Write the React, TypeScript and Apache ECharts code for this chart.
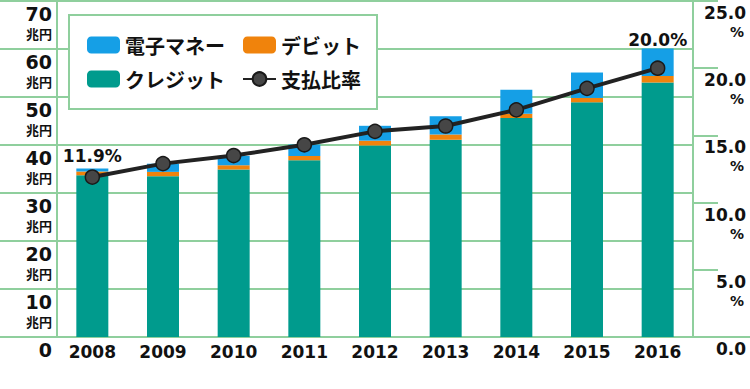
import React, { useEffect, useRef } from "react";
import * as echarts from "echarts";

const years = ["2008", "2009", "2010", "2011", "2012", "2013", "2014", "2015", "2016"];
const credit = [33.7, 33.5, 34.9, 36.8, 39.9, 41.1, 45.6, 48.9, 53.0];
const debit = [0.8, 0.9, 0.9, 0.9, 1.0, 1.1, 0.9, 0.9, 1.4];
const emoney = [0.6, 1.7, 1.9, 2.4, 3.1, 3.8, 5.0, 5.3, 5.7];
const rate = [11.9, 12.9, 13.5, 14.3, 15.3, 15.7, 16.9, 18.5, 20.0];

const GREEN = "#8fcf9d";
const NUM_FONT = "DejaVu Sans";
const JP_FONT = "Noto Sans CJK JP";

export default function App() {
  const ref = useRef<HTMLDivElement>(null);
  useEffect(() => {
    const chart = echarts.init(ref.current!, null, { renderer: "svg" });
    const lastIdx = rate.length - 1;
    chart.setOption({
      animation: false,
      backgroundColor: "#ffffff",
      grid: { left: 57, right: 57, top: 1, bottom: 52 },
      graphic: [
        {
          type: "line",
          z: 1,
          shape: { x1: 0, y1: 337, x2: 750, y2: 337 },
          style: { stroke: GREEN, lineWidth: 2 },
        },
        {
          type: "rect",
          z: 3,
          shape: { x: 69, y: 15, width: 308, height: 94 },
          style: { fill: "#ffffff", stroke: GREEN, lineWidth: 2 },
        },
      ],
      legend: [
        {
          orient: "vertical",
          left: 87,
          top: 35,
          padding: 0,
          itemWidth: 33,
          itemHeight: 17,
          itemGap: 14,
          itemTextGap: 5,
          z: 5,
          data: ["電子マネー", "クレジット"],
          textStyle: { fontFamily: JP_FONT, fontWeight: "bold", fontSize: 20, lineHeight: 20, color: "#111" },
        },
        {
          orient: "vertical",
          left: 242,
          top: 35,
          padding: 0,
          itemWidth: 33,
          itemHeight: 17,
          itemGap: 14,
          itemTextGap: 5,
          z: 5,
          data: ["デビット", "支払比率"],
          textStyle: { fontFamily: JP_FONT, fontWeight: "bold", fontSize: 20, lineHeight: 20, color: "#111" },
        },
      ],
      xAxis: {
        type: "category",
        data: years,
        axisLine: { show: false },
        axisTick: { show: false },
        axisLabel: {
          margin: 6,
          fontFamily: NUM_FONT,
          fontWeight: "bold",
          fontSize: 17,
          color: "#111",
        },
      },
      yAxis: [
        {
          type: "value",
          min: 0,
          max: 70,
          interval: 10,
          position: "left",
          axisLine: { show: true, lineStyle: { color: GREEN, width: 2 } },
          axisTick: { show: true, length: 57, lineStyle: { color: GREEN, width: 2 } },
          splitLine: { show: true, lineStyle: { color: GREEN, width: 2 } },
          axisLabel: {
            margin: 5,
            verticalAlign: "top",
            align: "right",
            formatter: (v: number) => (v === 0 ? "{a|0}" : `{a|${v}}\n{b|兆円}`),
            rich: {
              a: { fontFamily: NUM_FONT, fontWeight: "bold", fontSize: 19, lineHeight: 26, color: "#111", align: "right" },
              b: { fontFamily: JP_FONT, fontWeight: "bold", fontSize: 13, lineHeight: 13, color: "#111", align: "right" },
            },
          },
        },
        {
          type: "value",
          min: 0,
          max: 25,
          interval: 5,
          position: "right",
          axisLine: { show: true, lineStyle: { color: GREEN, width: 2 } },
          axisTick: { show: true, length: 25, lineStyle: { color: GREEN, width: 2 } },
          splitLine: { show: false },
          axisLabel: {
            margin: 53,
            verticalAlign: "top",
            align: "right",
            formatter: (v: number) => (v === 0 ? "{c|0.0}" : `{c|${v.toFixed(1)}}\n{d|%}`),
            rich: {
              c: { fontFamily: NUM_FONT, fontWeight: "bold", fontSize: 17, lineHeight: 24, color: "#111", align: "right" },
              d: { fontFamily: NUM_FONT, fontWeight: "bold", fontSize: 14, lineHeight: 14, color: "#111", align: "right", padding: [0, 2, 0, 0] },
            },
          },
        },
      ],
      series: [
        {
          name: "クレジット",
          type: "bar",
          stack: "total",
          barWidth: 32,
          itemStyle: { color: "#009b8d" },
          data: credit,
        },
        {
          name: "デビット",
          type: "bar",
          stack: "total",
          barWidth: 32,
          itemStyle: { color: "#f0830c" },
          data: debit,
        },
        {
          name: "電子マネー",
          type: "bar",
          stack: "total",
          barWidth: 32,
          itemStyle: { color: "#159fe6" },
          data: emoney,
        },
        {
          name: "支払比率",
          type: "line",
          yAxisIndex: 1,
          z: 6,
          symbol: "circle",
          symbolSize: 14,
          lineStyle: { color: "#222222", width: 4 },
          itemStyle: { color: "#464646", borderColor: "#1a1a1a", borderWidth: 1.5 },
          data: rate.map((v, i) => {
            if (i === 0 || i === lastIdx) {
              return {
                value: v,
                label: {
                  show: true,
                  position: "top",
                  distance: i === 0 ? 5 : 12,
                  formatter: (p: any) => `${Number(p.value).toFixed(1)}%`,
                  fontFamily: NUM_FONT,
                  fontWeight: "bold",
                  fontSize: 17,
                  color: "#111",
                },
              };
            }
            return v;
          }),
        },
      ],
    });
    return () => chart.dispose();
  }, []);
  return (
    <div
      ref={ref}
      style={{ width: 750, height: 389, position: "absolute", left: 0, top: 0 }}
    />
  );
}
